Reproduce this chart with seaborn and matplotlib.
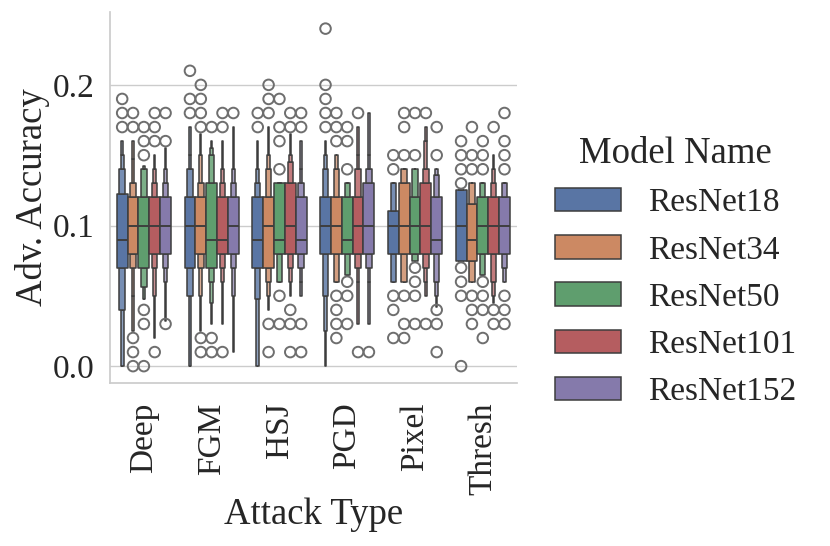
import pandas as pd
import matplotlib
matplotlib.use("Agg")
import matplotlib.pyplot as plt
import seaborn as sns

attacks = ["Deep", "FGM", "HSJ", "PGD", "Pixel", "Thresh"]
models = ["ResNet18", "ResNet34", "ResNet50", "ResNet101", "ResNet152"]

# letter values, one row per attack:
# 3.1%, 6.25%, 12.5%, 25%, median, 75%, 87.5%, 93.75%, 96.9%
resnet18_lv = [
    [0.0, 0.0, 0.04, 0.07, 0.09, 0.1225, 0.14, 0.15, 0.16],
    [0.0, 0.0, 0.05, 0.07, 0.10, 0.12, 0.14, 0.15, 0.17],
    [0.0, 0.0, 0.048, 0.07, 0.09, 0.12, 0.13, 0.14, 0.16],
    [0.0, 0.025, 0.05, 0.08, 0.10, 0.12, 0.14, 0.15, 0.16],
    [0.06, 0.06, 0.06, 0.08, 0.10, 0.11, 0.13, 0.13, 0.13],
    [0.075, 0.075, 0.075, 0.075, 0.10, 0.125, 0.125, 0.125, 0.125],
]
resnet18_out = [
    [0.17, 0.18, 0.19],
    [0.18, 0.19, 0.21],
    [0.17, 0.18],
    [0.17, 0.18, 0.19, 0.20, 0.24],
    [0.02, 0.04, 0.05, 0.14, 0.15],
    [0.0, 0.05, 0.06, 0.07, 0.13, 0.14, 0.15, 0.16],
]

resnet34_lv = [
    [0.025, 0.05, 0.07, 0.08, 0.10, 0.12, 0.13, 0.147, 0.16],
    [0.025, 0.05, 0.07, 0.08, 0.10, 0.12, 0.13, 0.15, 0.165],
    [0.04, 0.05, 0.06, 0.07, 0.10, 0.12, 0.14, 0.15, 0.17],
    [0.06, 0.06, 0.06, 0.08, 0.10, 0.12, 0.14, 0.15, 0.15],
    [0.06, 0.06, 0.06, 0.08, 0.10, 0.13, 0.14, 0.14, 0.14],
    [0.06, 0.06, 0.06, 0.075, 0.09, 0.115, 0.13, 0.13, 0.13],
]
resnet34_out = [
    [0.0, 0.01, 0.02, 0.17, 0.18],
    [0.01, 0.02, 0.17, 0.18, 0.19, 0.20],
    [0.01, 0.03, 0.18, 0.19, 0.20],
    [0.02, 0.03, 0.04, 0.05, 0.16, 0.17, 0.18],
    [0.02, 0.03, 0.05, 0.15, 0.17, 0.18],
    [0.03, 0.04, 0.05, 0.14, 0.15, 0.17],
]

resnet50_lv = [
    [0.048, 0.048, 0.056, 0.07, 0.10, 0.12, 0.14, 0.14, 0.142],
    [0.03, 0.045, 0.06, 0.07, 0.09, 0.13, 0.15, 0.155, 0.16],
    [0.06, 0.06, 0.06, 0.08, 0.09, 0.13, 0.13, 0.13, 0.13],
    [0.065, 0.065, 0.065, 0.08, 0.09, 0.12, 0.13, 0.13, 0.13],
    [0.075, 0.075, 0.075, 0.08, 0.10, 0.12, 0.14, 0.14, 0.14],
    [0.065, 0.065, 0.065, 0.08, 0.10, 0.12, 0.13, 0.13, 0.13],
]
resnet50_out = [
    [0.0, 0.03, 0.04, 0.15, 0.16, 0.17],
    [0.01, 0.02, 0.17],
    [0.03, 0.05, 0.14, 0.16, 0.17, 0.19],
    [0.03, 0.05, 0.06, 0.14, 0.16, 0.17],
    [0.03, 0.05, 0.06, 0.07, 0.15, 0.18],
    [0.02, 0.04, 0.05, 0.06, 0.14, 0.15, 0.16],
]

resnet101_lv = [
    [0.02, 0.05, 0.07, 0.08, 0.10, 0.12, 0.13, 0.14, 0.15],
    [0.03, 0.06, 0.07, 0.08, 0.09, 0.12, 0.13, 0.14, 0.16],
    [0.05, 0.06, 0.07, 0.08, 0.10, 0.13, 0.145, 0.15, 0.165],
    [0.03, 0.06, 0.07, 0.08, 0.10, 0.12, 0.14, 0.15, 0.17],
    [0.05, 0.06, 0.07, 0.08, 0.10, 0.13, 0.14, 0.16, 0.17],
    [0.045, 0.05, 0.06, 0.08, 0.10, 0.12, 0.13, 0.14, 0.15],
]
resnet101_out = [
    [0.01, 0.16, 0.17, 0.18],
    [0.01, 0.17, 0.18],
    [0.01, 0.03, 0.04, 0.17, 0.18],
    [0.01, 0.18],
    [0.03, 0.18],
    [0.03, 0.04, 0.17],
]

resnet152_lv = [
    [0.032, 0.06, 0.07, 0.08, 0.10, 0.12, 0.13, 0.14, 0.155],
    [0.01, 0.05, 0.07, 0.08, 0.10, 0.12, 0.13, 0.14, 0.17],
    [0.05, 0.06, 0.07, 0.08, 0.09, 0.12, 0.13, 0.14, 0.16],
    [0.03, 0.06, 0.07, 0.08, 0.10, 0.13, 0.14, 0.15, 0.18],
    [0.042, 0.05, 0.06, 0.08, 0.09, 0.12, 0.136, 0.14, 0.14],
    [0.06, 0.06, 0.07, 0.08, 0.10, 0.12, 0.13, 0.13, 0.13],
]
resnet152_out = [
    [0.03, 0.16, 0.18],
    [0.18],
    [0.01, 0.03, 0.17, 0.18],
    [0.01],
    [0.01, 0.03, 0.04, 0.15, 0.17],
    [0.03, 0.04, 0.05, 0.14, 0.15, 0.16, 0.18],
]

model_lv = [resnet18_lv, resnet34_lv, resnet50_lv, resnet101_lv, resnet152_lv]
model_out = [resnet18_out, resnet34_out, resnet50_out, resnet101_out, resnet152_out]

# copies of each letter value in a 225-run sample (7 spare slots per tail
# for the outliers), so np.percentile lands exactly on the values above
COPIES = [7, 14, 28, 56, 1, 56, 28, 14, 7]
TAIL = 7


def build_runs(lv, out):
    low = [v for v in out if v < lv[0]]
    high = [v for v in out if v > lv[-1]]
    runs = low + [lv[0]] * (TAIL - len(low))
    for value, n in zip(lv, COPIES):
        runs += [value] * n
    runs += [lv[-1]] * (TAIL - len(high)) + high
    return runs


rows = []
for model, lv_rows, out_rows in zip(models, model_lv, model_out):
    for attack, lv, out in zip(attacks, lv_rows, out_rows):
        for acc in build_runs(lv, out):
            rows.append({"Attack Type": attack, "Model Name": model, "Adv. Accuracy": acc})
df = pd.DataFrame(rows)

sns.set_theme(style="whitegrid")
plt.rcParams["font.family"] = ["Liberation Serif", "DejaVu Serif"]
TICK_FS = 24
LABEL_FS = 26.5

fig = plt.figure(figsize=(8.3, 5.46), dpi=100)
ax = fig.add_axes([0.1325, 0.2985, 0.490, 0.680])

sns.boxenplot(data=df, x="Attack Type", y="Adv. Accuracy", hue="Model Name",
              order=attacks, hue_order=models, linewidth=1.1, linecolor="#3d3d3d",
              flier_kws={"s": 58, "linewidth": 1.4, "edgecolor": "#6e6e6e"}, ax=ax)

ax.set_yticks([0.0, 0.1, 0.2])
ax.set_yticklabels(["0.0", "0.1", "0.2"])
ax.tick_params(axis="y", labelsize=TICK_FS, pad=5)
ax.tick_params(axis="x", labelsize=TICK_FS, pad=8, labelrotation=90)
ax.set_xlabel("Attack Type", fontsize=LABEL_FS, labelpad=2)
ax.set_ylabel("Adv. Accuracy", fontsize=LABEL_FS, labelpad=2)
sns.despine(ax=ax)

sns.move_legend(ax, "upper left", bbox_to_anchor=(1.02, 0.744), frameon=False,
                fontsize=TICK_FS, title_fontsize=LABEL_FS, title="Model Name")

fig.savefig("out.png", dpi=100)
